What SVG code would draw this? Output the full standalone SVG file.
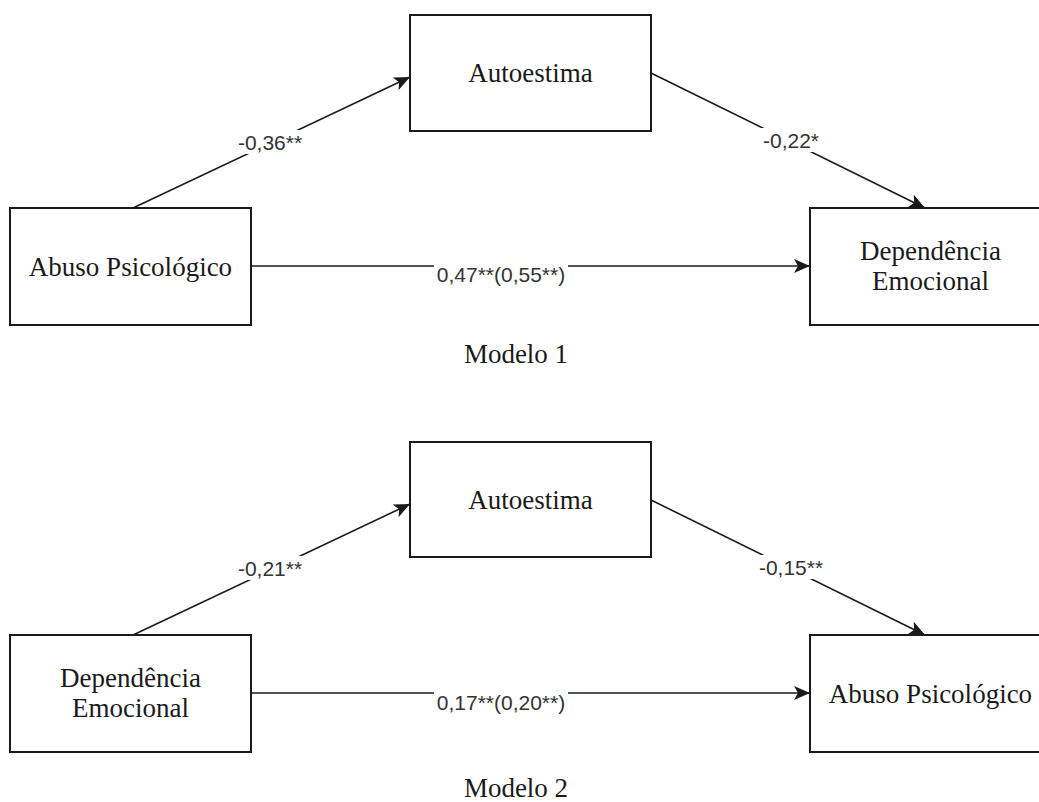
<svg xmlns="http://www.w3.org/2000/svg" width="1039" height="802" viewBox="0 0 1039 802">
  <style>
    .box { fill: #ffffff; stroke: #1a1a1a; stroke-width: 2; }
    .node { font-family: "Liberation Serif", "Times New Roman", serif; font-size: 27px; fill: #1a1a1a; text-anchor: middle; }
    .edge { fill: none; stroke: #1a1a1a; stroke-width: 1.6; marker-end: url(#arrow); }
    .lbl { font-family: "Liberation Sans", Arial, sans-serif; font-size: 21px; fill: #333333; text-anchor: middle; }
    .lblbg { fill: #ffffff; }
  </style>
  <defs>
    <marker id="arrow" markerUnits="userSpaceOnUse" markerWidth="18" markerHeight="14" refX="16" refY="7" orient="auto">
      <path d="M0,0 L16,7 L0,14 L4,7 Z" fill="#1a1a1a"/>
    </marker>
  </defs>
  <rect width="1039" height="802" fill="#ffffff"/>

  <g id="connectors">
    <line class="edge" x1="133" y1="208" x2="410" y2="77"/>
    <line class="edge" x1="651" y1="73" x2="925" y2="208"/>
    <line class="edge" x1="251" y1="266" x2="810" y2="266"/>
    <line class="edge" x1="133" y1="635" x2="410" y2="504"/>
    <line class="edge" x1="651" y1="500" x2="925" y2="635"/>
    <line class="edge" x1="251" y1="693" x2="810" y2="693"/>
    <rect class="lblbg" x="238" y="130" width="66" height="24"/>
    <text class="lbl" x="270" y="150">-0,36**</text>
    <rect class="lblbg" x="761" y="128" width="60" height="24"/>
    <text class="lbl" x="791" y="148">-0,22*</text>
    <rect class="lblbg" x="434" y="262" width="134" height="24"/>
    <text class="lbl" x="501" y="282">0,47**(0,55**)</text>
    <rect class="lblbg" x="238" y="556" width="66" height="24"/>
    <text class="lbl" x="270" y="576">-0,21**</text>
    <rect class="lblbg" x="758" y="555" width="66" height="24"/>
    <text class="lbl" x="791" y="575">-0,15**</text>
    <rect class="lblbg" x="434" y="689" width="134" height="24"/>
    <text class="lbl" x="501" y="710">0,17**(0,20**)</text>
  </g>

  <g id="m1-abuso">
    <rect class="box" x="10" y="208" width="241" height="117"/>
    <text class="node" x="130.5" y="276">Abuso Psicológico</text>
  </g>
  <g id="m1-autoestima">
    <rect class="box" x="410" y="15" width="241" height="116"/>
    <text class="node" x="530.5" y="82">Autoestima</text>
  </g>
  <g id="m1-dependencia">
    <rect class="box" x="810" y="208" width="241" height="117"/>
    <text class="node" x="930.5" y="260">Dependência</text>
    <text class="node" x="930.5" y="290">Emocional</text>
  </g>
  <g id="m1-title">
    <text class="node" x="516" y="363">Modelo 1</text>
  </g>

  <g id="m2-dependencia">
    <rect class="box" x="10" y="635" width="241" height="117"/>
    <text class="node" x="130.5" y="687">Dependência</text>
    <text class="node" x="130.5" y="717">Emocional</text>
  </g>
  <g id="m2-autoestima">
    <rect class="box" x="410" y="442" width="241" height="115"/>
    <text class="node" x="530.5" y="509">Autoestima</text>
  </g>
  <g id="m2-abuso">
    <rect class="box" x="810" y="635" width="241" height="117"/>
    <text class="node" x="930.5" y="703">Abuso Psicológico</text>
  </g>
  <g id="m2-title">
    <text class="node" x="516" y="797">Modelo 2</text>
  </g>
</svg>
